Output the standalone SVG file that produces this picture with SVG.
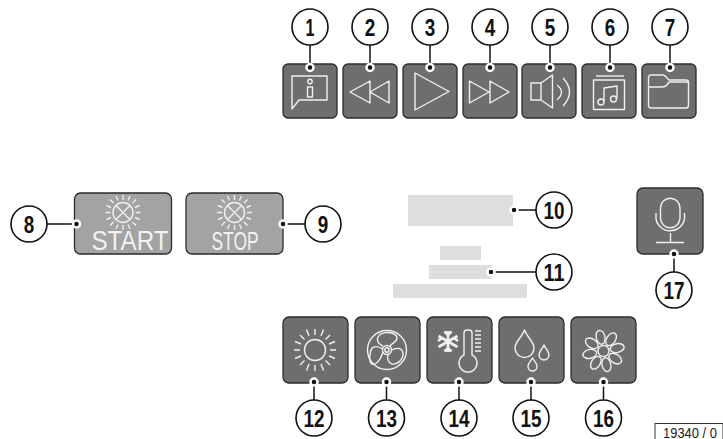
<svg xmlns="http://www.w3.org/2000/svg" width="723" height="439" viewBox="0 0 723 439">
<style>
text{font-family:"Liberation Sans",Arial,sans-serif}
.b{fill:#6d6e6d;stroke:#2b2b2b;stroke-width:1.3}
.l{fill:#a2a3a2;stroke:#2b2b2b;stroke-width:1.3}
.g{fill:#dedede}
.i{fill:none;stroke:#f0f0f0;stroke-width:1.4;stroke-linejoin:round}
.c{fill:#fff;stroke:#111;stroke-width:1.6}
.n{font-size:23.500px;font-weight:bold;fill:#111;text-anchor:middle}
.ln{stroke:#111;stroke-width:1.5;fill:none}
.d{fill:#111;stroke:#fff;stroke-width:2.5}
.t{fill:#f2f2f2;text-anchor:middle}
</style>
<defs>
<g id="sunburst" class="i" stroke-width="1"><circle r="10"/><path d="M-7-7 7 7M7-7-7 7M0-12.500V-17.500M0 12.500V17.500M-12.500 0H-17.500M12.500 0H17.500M-9.500-9.500-13-13M9.500-9.500 13-13M-9.500 9.500-13 13M9.500 9.500 13 13M-5-12-7-16.500M5-12 7-16.500M-5 12-7 16.500M5 12 7 16.500M-12-5-16.500-7M12-5 16.500-7M-12 5-16.500 7M12 5 16.500 7"/></g>
<ellipse id="petal" cx="0" cy="-14" rx="4.400" ry="7" class="i"/>
</defs>

<g id="node-1"><rect class="b" x="283" y="64" width="54" height="54" rx="5"/><path class="i" d="M292 76H327V100H299L292 109Z"/><circle class="i" cx="310" cy="81.500" r="2.200"/><rect class="i" x="307.500" y="87" width="5" height="10"/></g>
<g id="node-2"><rect class="b" x="343" y="64" width="54" height="54" rx="5"/><path class="i" d="M350 92 370 81V103ZM370 92 389 81V103Z"/></g>
<g id="node-3"><rect class="b" x="403" y="64" width="54" height="54" rx="5"/><path class="i" d="M415 73V110L449 91.500Z"/></g>
<g id="node-4"><rect class="b" x="463" y="64" width="54" height="54" rx="5"/><path class="i" d="M469.500 81V103L489 92ZM490 81V103L509 92Z"/></g>
<g id="node-5"><rect class="b" x="522" y="64" width="54" height="54" rx="5"/><path class="i" d="M531 83H541L552.500 75V108L541 100H531ZM541 83V100M557 85Q566 92 557 100M563 78Q576 92 563 106"/></g>
<g id="node-6"><rect class="b" x="582" y="64" width="54" height="54" rx="5"/><path class="i" d="M596 76H624"/><rect class="i" x="593.500" y="80" width="31" height="29.500"/><path class="i" d="M604 101V88L617 86V98"/><circle class="i" cx="601" cy="102" r="3"/><circle class="i" cx="613.500" cy="99" r="3"/></g>
<g id="node-7"><rect class="b" x="642" y="64" width="54" height="54" rx="5"/><path class="i" d="M648.500 87V78Q648.500 75 651 75H663Q665 75 667 78L669 80H686Q688.500 80 688.500 82V105Q688.500 108 686 108H651Q648.500 108 648.500 105ZM648.500 87H662Q665 87 667 85L669 82H688"/></g>

<g id="node-8"><rect class="l" x="74.500" y="193" width="97" height="61" rx="6"/><use href="#sunburst" x="123" y="212.500"/><text class="t" x="130" y="249.500" font-size="27" textLength="77" lengthAdjust="spacingAndGlyphs">START</text></g>
<g id="node-9"><rect class="l" x="186" y="193" width="97" height="61" rx="6"/><use href="#sunburst" x="234.500" y="212.500"/><text class="t" x="235" y="250" font-size="25" textLength="47" lengthAdjust="spacingAndGlyphs">STOP</text></g>

<g id="node-10"><rect class="g" x="408" y="195" width="105" height="31"/></g>
<g id="node-11"><rect class="g" x="440" y="246" width="41" height="14"/><rect class="g" x="429" y="265" width="63" height="14"/><rect class="g" x="393" y="284" width="134" height="14"/></g>

<g id="node-17"><rect class="b" x="637" y="188" width="66" height="66" rx="6"/><path class="i" stroke-width="1.200" d="M660.500 208A9.500 9.500 0 0 1 680 208V218A9.500 9.500 0 0 1 660.500 218ZM656 213V219A14.500 14.500 0 0 0 684.500 219V213M670.500 233V242.500M656 242.500H684"/></g>

<g id="node-12"><rect class="b" x="283" y="317" width="65" height="66" rx="6"/><g class="i"><circle cx="315" cy="350" r="10.500"/><path d="M315 335V329M315 365V371M300 350H294M330 350H336M304.500 339.500 300 335M325.500 339.500 330 335M304.500 360.500 300 365M325.500 360.500 330 365M309 336 306.500 329.500M321 336 323.500 329.500M309 364 306.500 370.500M321 364 323.500 370.500M301 344 295 341.500M329 344 335 341.500M301 356 295 358.500M329 356 335 358.500"/></g></g>
<g id="node-13"><rect class="b" x="355" y="317" width="65" height="66" rx="6"/><g class="i"><circle cx="387" cy="350" r="19.500"/><circle cx="387" cy="350" r="4.500"/><circle cx="387" cy="350" r="2.200"/><path d="M383 346C376 343 376 337 381 334C387 331 397 333 397 338C397 342 392 343 390 346M391.500 350C397 347 403 348 403 354C403 360 397 365 392 364C388 363 387 358 388 355M383 352C381 359 376 366 372 364C368 362 370 349 373 347.500C376 346 380 347 382.500 349"/></g></g>
<g id="node-14"><rect class="b" x="427" y="317" width="65" height="66" rx="6"/><g class="i"><path stroke-width="2.600" d="M448 331V352M438.500 336 457.500 347M438.500 347 457.500 336M448 335 444.500 331.500M448 335 451.500 331.500M448 348 444.500 351.500M448 348 451.500 351.500M442 338 438 341M454 338 458 341"/><path d="M464 333Q464 330 467 330H469Q472 330 472 333V355A9 9 0 1 1 464 355Z"/><path d="M475 331H481M475 335H481M475 339H481M475 343H481M475 347H481M475 351H481"/></g></g>
<g id="node-15"><rect class="b" x="499" y="317" width="65" height="66" rx="6"/><g class="i"><path d="M524.500 330C527 337 534 342 534 348A9.500 9.500 0 0 1 515 348C515 342 522 337 524.500 330Z"/><path d="M544 345C545.500 349 549 351 549 355A5 5 0 0 1 539 355C539 351 542.500 349 544 345Z"/><path d="M532.500 358C534 361 537 363 537 366.500A4.500 4.500 0 0 1 528 366.500C528 363 531 361 532.500 358Z"/></g></g>
<g id="node-16"><rect class="b" x="571" y="317" width="65" height="66" rx="6"/><g transform="translate(603.500 351)"><circle class="i" r="5.500"/><use href="#petal" transform="rotate(-12)"/><use href="#petal" transform="rotate(33)"/><use href="#petal" transform="rotate(78)"/><use href="#petal" transform="rotate(123)"/><use href="#petal" transform="rotate(168)"/><use href="#petal" transform="rotate(213)"/><use href="#petal" transform="rotate(258)"/><use href="#petal" transform="rotate(303)"/></g></g>

<g id="connectors">
<path class="ln" d="M310 45V68M370 45V68M430 45V68M490 45V68M550 45V68M610 45V68M670 45V68M47 224H76M305 224H283M536 210H514M536 272H491M674 272V254M314 400V382M386.500 400V382M459 400V382M531 400V382M603.500 400V382"/>
<g class="d"><circle cx="310" cy="67.500" r="3.500"/><circle cx="370" cy="67.500" r="3.500"/><circle cx="430" cy="67.500" r="3.500"/><circle cx="490" cy="67.500" r="3.500"/><circle cx="550" cy="67.500" r="3.500"/><circle cx="610" cy="67.500" r="3.500"/><circle cx="670" cy="67.500" r="3.500"/><circle cx="76.500" cy="224" r="3.500"/><circle cx="283" cy="224" r="3.500"/><circle cx="514" cy="210" r="3.500"/><circle cx="491" cy="272" r="3.500"/><circle cx="674" cy="254" r="3.500"/><circle cx="314" cy="382" r="3.500"/><circle cx="386.500" cy="382" r="3.500"/><circle cx="459" cy="382" r="3.500"/><circle cx="531" cy="382" r="3.500"/><circle cx="603.500" cy="382" r="3.500"/></g>
</g>

<g id="callouts">
<g id="callout-1"><circle class="c" cx="310" cy="27" r="18"/><text class="n" x="310" y="35.500" textLength="9" lengthAdjust="spacingAndGlyphs">1</text></g>
<g id="callout-2"><circle class="c" cx="370" cy="27" r="18"/><text class="n" x="370" y="35.500" textLength="10.500" lengthAdjust="spacingAndGlyphs">2</text></g>
<g id="callout-3"><circle class="c" cx="430" cy="27" r="18"/><text class="n" x="430" y="35.500" textLength="10.500" lengthAdjust="spacingAndGlyphs">3</text></g>
<g id="callout-4"><circle class="c" cx="490" cy="27" r="18"/><text class="n" x="490" y="35.500" textLength="10.500" lengthAdjust="spacingAndGlyphs">4</text></g>
<g id="callout-5"><circle class="c" cx="550" cy="27" r="18"/><text class="n" x="550" y="35.500" textLength="10.500" lengthAdjust="spacingAndGlyphs">5</text></g>
<g id="callout-6"><circle class="c" cx="610" cy="27" r="18"/><text class="n" x="610" y="35.500" textLength="10.500" lengthAdjust="spacingAndGlyphs">6</text></g>
<g id="callout-7"><circle class="c" cx="670" cy="27" r="18"/><text class="n" x="670" y="35.500" textLength="10.500" lengthAdjust="spacingAndGlyphs">7</text></g>
<g id="callout-8"><circle class="c" cx="29" cy="224" r="18"/><text class="n" x="29" y="232.500" textLength="10.500" lengthAdjust="spacingAndGlyphs">8</text></g>
<g id="callout-9"><circle class="c" cx="323" cy="224" r="18"/><text class="n" x="323" y="232.500" textLength="10.500" lengthAdjust="spacingAndGlyphs">9</text></g>
<g id="callout-10"><circle class="c" cx="554" cy="210" r="18"/><text class="n" x="554" y="218.500" textLength="21" lengthAdjust="spacingAndGlyphs">10</text></g>
<g id="callout-11"><circle class="c" cx="554" cy="272" r="18"/><text class="n" x="554" y="280.500" textLength="21" lengthAdjust="spacingAndGlyphs">11</text></g>
<g id="callout-17"><circle class="c" cx="674" cy="290" r="18"/><text class="n" x="674" y="298.500" textLength="21" lengthAdjust="spacingAndGlyphs">17</text></g>
<g id="callout-12"><circle class="c" cx="314" cy="418" r="18"/><text class="n" x="314" y="426.500" textLength="21" lengthAdjust="spacingAndGlyphs">12</text></g>
<g id="callout-13"><circle class="c" cx="386.500" cy="418" r="18"/><text class="n" x="386.500" y="426.500" textLength="21" lengthAdjust="spacingAndGlyphs">13</text></g>
<g id="callout-14"><circle class="c" cx="459" cy="418" r="18"/><text class="n" x="459" y="426.500" textLength="21" lengthAdjust="spacingAndGlyphs">14</text></g>
<g id="callout-15"><circle class="c" cx="531" cy="418" r="18"/><text class="n" x="531" y="426.500" textLength="21" lengthAdjust="spacingAndGlyphs">15</text></g>
<g id="callout-16"><circle class="c" cx="603.500" cy="418" r="18"/><text class="n" x="603.500" y="426.500" textLength="21" lengthAdjust="spacingAndGlyphs">16</text></g>
</g>

<g id="ref"><rect x="655" y="423.500" width="68" height="20" fill="#fff" stroke="#333" stroke-width="1"/><text x="690" y="437.500" font-size="14.500" fill="#222" text-anchor="middle" textLength="54" lengthAdjust="spacingAndGlyphs">19340 / 0</text></g>
</svg>
